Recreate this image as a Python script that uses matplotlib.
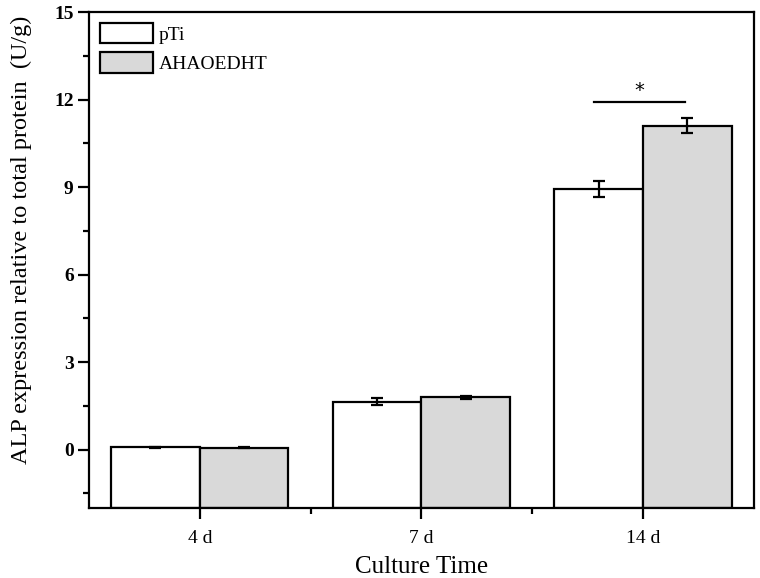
import matplotlib.pyplot as plt
import numpy as np
from matplotlib.ticker import MultipleLocator, FixedLocator

plt.rcParams["font.family"] = ["Liberation Serif", "DejaVu Serif"]

categories = ["4 d", "7 d", "14 d"]
pti_mean = [0.08, 1.65, 8.94]
pti_err = [0.02, 0.12, 0.26]
ahao_mean = [0.07, 1.80, 11.10]
ahao_err = [0.02, 0.05, 0.26]

Y_MIN = -2.0
x = np.arange(1, len(categories) + 1)
width = 0.4

fig = plt.figure(figsize=(7.6, 5.78), dpi=100)
ax = fig.add_axes([0.117, 0.121, 0.875, 0.858])

# Origin-style bars: drawn up from the bottom of the axis
err_kw = dict(ecolor="black", elinewidth=1.6, capsize=4, capthick=1.6)
ax.bar(x - width / 2, np.array(pti_mean) - Y_MIN, width, bottom=Y_MIN,
       yerr=pti_err, color="white", edgecolor="black", linewidth=1.6,
       label="pTi", error_kw=err_kw)
ax.bar(x + width / 2, np.array(ahao_mean) - Y_MIN, width, bottom=Y_MIN,
       yerr=ahao_err, color="#d9d9d9", edgecolor="black", linewidth=1.6,
       label="AHAOEDHT", error_kw=err_kw)

# significance marker for 14 d
ax.plot([2.78, 3.19], [11.93, 11.93], color="black", linewidth=1.6)
ax.text(2.985, 11.98, "*", ha="center", va="bottom", fontsize=14,
        family="DejaVu Sans")

ax.set_xlim(0.5, 3.5)
ax.set_ylim(Y_MIN, 15)
ax.set_xticks(x)
ax.set_xticklabels(categories, fontsize=14)
ax.xaxis.set_minor_locator(FixedLocator([1.5, 2.5]))
ax.yaxis.set_major_locator(MultipleLocator(3))
ax.yaxis.set_minor_locator(MultipleLocator(1.5))
for lab in ax.get_yticklabels():
    lab.set_fontweight("bold")
    lab.set_fontsize(14)

ax.tick_params(axis="both", which="major", direction="out", length=8, width=1.6, pad=3)
ax.tick_params(axis="both", which="minor", direction="out", length=4, width=1.6)
ax.tick_params(axis="x", which="major", pad=8)
for s in ax.spines.values():
    s.set_linewidth(1.6)

ax.set_xlabel("Culture Time", fontsize=18)
ax.xaxis.set_label_coords(0.5, -0.097)
ax.set_ylabel("ALP expression relative to total protein  (U/g)", fontsize=17.5)
ax.yaxis.set_label_coords(-0.086, 0.54)

ax.legend(loc="upper left", frameon=False, fontsize=14, handlelength=2.75,
          handleheight=1.25, handletextpad=0.3, labelspacing=0.45,
          borderaxespad=0.35, borderpad=0.2)

fig.savefig("out.png", dpi=100)
